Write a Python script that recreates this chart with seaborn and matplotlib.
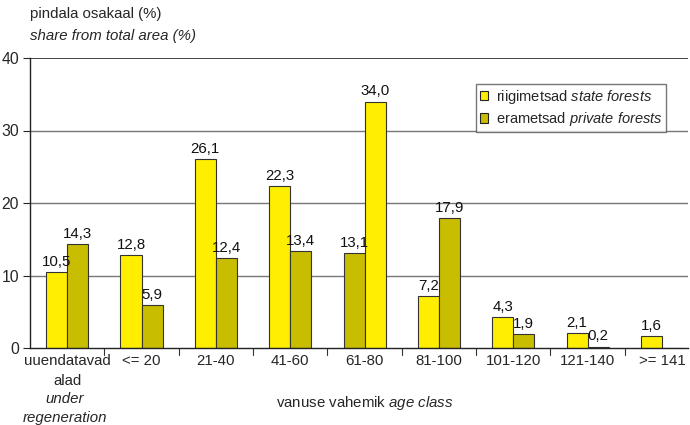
import matplotlib
matplotlib.use("Agg")
import matplotlib.pyplot as plt
import seaborn as sns
import pandas as pd
import numpy as np
from matplotlib.patches import Patch

categories = ["uuendatavad\nalad", "<= 20", "21-40", "41-60", "61-80",
              "81-100", "101-120", "121-140", ">= 141"]
state = [10.5, 12.8, 26.1, 22.3, 34.0, 7.2, 4.3, 2.1, 1.6]
private = [14.3, 5.9, 12.4, 13.4, 13.1, 17.9, 1.9, 0.2, 0.0]
# in the reference the 61-80 pair is drawn with the private bar on the left
state_on_left = [True, True, True, True, False, True, True, True, True]
yticks = [0, 10, 20, 30, 40]

YELLOW = "#FFEE00"
OLIVE = "#C9BD00"
FAM = "Liberation Sans"
FS = 10.8

sns.set_style("white")
plt.rcParams["font.family"] = [FAM, "DejaVu Sans"]
plt.rcParams["mathtext.fontset"] = "custom"
plt.rcParams["mathtext.rm"] = FAM
plt.rcParams["mathtext.it"] = FAM + ":italic"

rows = []
colors = {}
for i, c in enumerate(categories):
    if state_on_left[i]:
        lv, rv, lc, rc = state[i], private[i], YELLOW, OLIVE
    else:
        lv, rv, lc, rc = private[i], state[i], OLIVE, YELLOW
    rows.append({"cat": c, "slot": "left", "val": lv})
    rows.append({"cat": c, "slot": "right", "val": rv})
    colors[(i, "left")] = lc
    colors[(i, "right")] = rc
df = pd.DataFrame(rows)

fig = plt.figure(figsize=(6.9, 4.25), dpi=100)
ax = fig.add_axes([30 / 690, 1 - 348 / 425, 658 / 690, 290 / 425])

sns.barplot(data=df, x="cat", y="val", hue="slot", hue_order=["left", "right"],
            order=categories, width=0.566, dodge=True, ax=ax, legend=False,
            edgecolor="#333333", linewidth=0.8, err_kws={"linewidth": 0})

for s_idx, slot in enumerate(["left", "right"]):
    cont = ax.containers[s_idx]
    for i, bar in enumerate(cont.patches):
        bar.set_facecolor(colors[(i, slot)])
        h = bar.get_height()
        if h > 0:
            ax.text(bar.get_x() + bar.get_width() / 2, h + 0.45,
                    f"{h:.1f}".replace(".", ","), ha="center", va="bottom",
                    fontsize=FS, color="#111111")

ax.set_ylim(0, 40)
ax.set_xlim(-0.5, 8.35)
ax.set_yticks(yticks)
ax.set_yticklabels([str(t) for t in yticks], fontsize=FS + 0.5)
ax.set_xticks(np.arange(len(categories)))
ax.set_xticklabels(categories, fontsize=FS, va="top", linespacing=1.6)
ax.tick_params(axis="x", length=0, pad=4)
ax.tick_params(axis="y", length=5, direction="out", left=True, width=0.8,
               pad=3)
for x in np.arange(0.5, 8.5, 1.0):
    ax.plot([x, x], [0, -0.9], color="#333333", lw=0.8, clip_on=False)

for y in [10, 20, 30]:
    ax.axhline(y, color="#777777", lw=1.0, zorder=0)
ax.axhline(40, color="#222222", lw=1.2, zorder=0)
for side in ["top", "right"]:
    ax.spines[side].set_visible(False)
ax.spines["left"].set_color("#222222")
ax.spines["bottom"].set_color("#222222")
ax.spines["left"].set_linewidth(1.0)
ax.spines["bottom"].set_linewidth(1.0)
ax.set_xlabel("")
ax.set_ylabel("")

# italic second part of the first tick label
fig.text(65 / 690, 1 - 399 / 425, "under", ha="center", va="center",
         fontsize=FS, style="italic")
fig.text(65 / 690, 1 - 418 / 425, "regeneration", ha="center", va="center",
         fontsize=FS, style="italic")

fig.text(365 / 690, 1 - 403 / 425, r"vanuse vahemik $\it{age\ class}$",
         ha="center", va="center", fontsize=FS)
fig.text(30 / 690, 1 - 14 / 425, "pindala osakaal (%)", ha="left",
         va="center", fontsize=FS)
fig.text(30 / 690, 1 - 36 / 425, "share from total area (%)", ha="left",
         va="center", fontsize=FS, style="italic")

handles = [Patch(facecolor=YELLOW, edgecolor="#222222", linewidth=0.8),
           Patch(facecolor=OLIVE, edgecolor="#222222", linewidth=0.8)]
labels = [r"riigimetsad $\it{state\ forests}$",
          r"erametsad $\it{private\ forests}$"]
leg = fig.legend(handles, labels, loc="upper left",
                 bbox_to_anchor=(476 / 690, 1 - 84 / 425), fontsize=FS - 0.3,
                 frameon=True, fancybox=False, handlelength=0.6,
                 handleheight=0.6, handletextpad=0.5, borderpad=0.25,
                 labelspacing=0.3, borderaxespad=0)
leg.get_frame().set_edgecolor("#555555")
leg.get_frame().set_linewidth(1.0)

fig.savefig("out.png", dpi=100, facecolor="white")
